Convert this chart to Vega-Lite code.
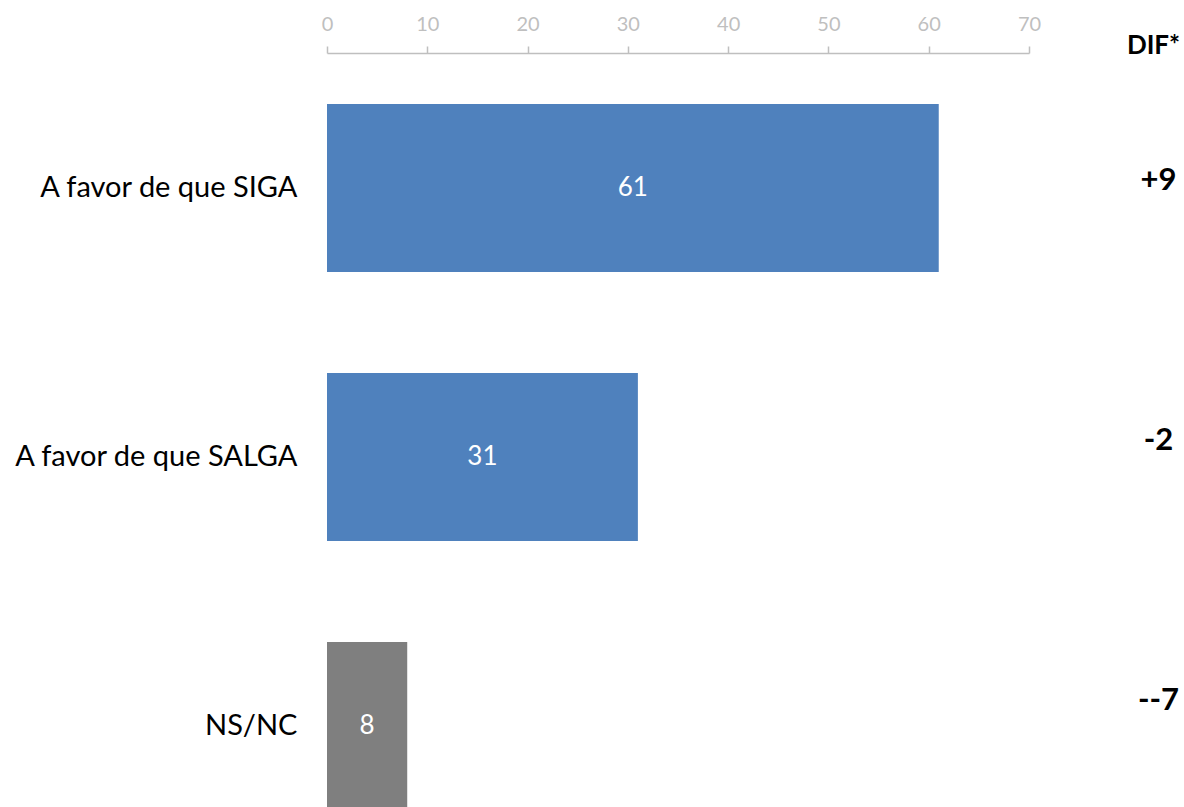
{
  "$schema": "https://vega.github.io/schema/vega-lite/v6.json",
  "autosize": "none",
  "padding": {"left": 327, "top": 53, "right": 155, "bottom": 0},
  "width": 702,
  "height": 808,
  "background": "white",
  "config": {"view": {"stroke": null}, "font": "Lato"},
  "data": {
    "values": [
      {"respuesta": "A favor de que SIGA", "valor": 61, "dif": "+9"},
      {"respuesta": "A favor de que SALGA", "valor": 31, "dif": "-2"},
      {"respuesta": "NS/NC", "valor": 8, "dif": "--7"}
    ]
  },
  "layer": [
    {
      "mark": {"type": "bar"},
      "encoding": {
        "y": {
          "field": "respuesta", "type": "nominal", "sort": null,
          "scale": {"paddingInner": 0.3755, "paddingOuter": 0.19},
          "axis": {
            "title": null, "domain": false, "ticks": false, "labelPadding": 30,
            "labelFont": "Lato", "labelFontSize": 29, "labelColor": "#000000", "labelLimit": 500
          }
        },
        "x": {
          "field": "valor", "type": "quantitative",
          "scale": {"domain": [0, 70], "nice": false},
          "axis": {
            "orient": "top", "title": null, "grid": false, "values": [0, 10, 20, 30, 40, 50, 60, 70],
            "labelFlush": false,
            "domainColor": "#BFBFBF", "domainWidth": 1.5, "tickColor": "#BFBFBF", "tickWidth": 1.5, "tickSize": 7,
            "labelFont": "Lato", "labelFontSize": 20, "labelColor": "#BFBFBF",
            "labelBaseline": "alphabetic", "labelPadding": 16
          }
        },
        "color": {
          "field": "respuesta", "type": "nominal", "legend": null,
          "scale": {"domain": ["A favor de que SIGA", "A favor de que SALGA", "NS/NC"], "range": ["#4F81BD", "#4F81BD", "#7F7F7F"]}
        }
      }
    },
    {
      "mark": {"type": "text", "color": "white", "font": "Lato", "fontSize": 26, "align": "center", "baseline": "middle"},
      "encoding": {
        "y": {
          "field": "respuesta", "type": "nominal", "sort": null,
          "scale": {"paddingInner": 0.3755, "paddingOuter": 0.19},
          "axis": null
        },
        "x": {
          "field": "valor", "type": "quantitative",
          "scale": {"domain": [0, 140], "nice": false},
          "axis": null
        },
        "text": {"field": "valor", "type": "quantitative"}
      }
    },
    {
      "mark": {"type": "point", "opacity": 0},
      "encoding": {
        "y": {
          "field": "dif", "type": "nominal", "sort": null,
          "scale": {"type": "point", "padding": 0.551, "align": 0.4425},
          "axis": {
            "orient": "right", "domain": false, "ticks": false, "tickSize": 0,
            "labelPadding": 129, "labelAlign": "center", "labelBaseline": "middle",
            "labelFont": "Lato", "labelFontSize": 31, "labelFontWeight": "bold", "labelColor": "#000000",
            "title": "DIF*", "titleAngle": 0, "titleX": 124, "titleY": -8,
            "titleAlign": "center", "titleBaseline": "middle",
            "titleFont": "Lato", "titleFontSize": 26, "titleFontWeight": "bold", "titleColor": "#000000"
          }
        }
      }
    }
  ],
  "resolve": {"scale": {"x": "independent", "y": "independent", "color": "independent"}}
}
